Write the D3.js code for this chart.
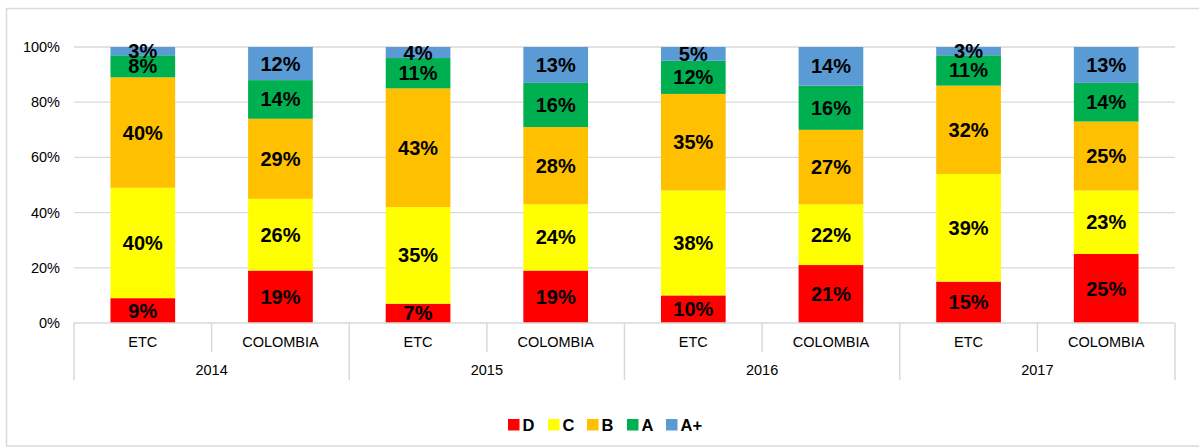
<!DOCTYPE html>
<html><head><meta charset="utf-8">
<script src="https://cdn.jsdelivr.net/npm/d3@7"></script>
<style>body{margin:0;background:#fff;}svg{display:block;font-family:"Liberation Sans",Arial,sans-serif;}</style>
</head><body>
<svg id="c" width="1199" height="447"></svg>
<script>
const years = ["2014","2015","2016","2017"];
const groups = ["ETC","COLOMBIA"];
const seriesNames = ["D","C","B","A","A+"];
const seriesColors = ["#ff0000","#ffff00","#ffc000","#00b050","#5b9bd5"];
const D  = [9,19,7,19,10,21,15,25];
const C  = [40,26,35,24,38,22,39,23];
const B  = [40,29,43,28,35,27,32,25];
const A  = [8,14,11,16,12,16,11,14];
const Ap = [3,12,4,13,5,14,3,13];
const yTicks = [0,20,40,60,80,100];

const cats = [];
years.forEach(y=>groups.forEach(g=>cats.push(y+"|"+g)));
const rows = cats.map((k,i)=>({key:k, D:D[i], C:C[i], B:B[i], A:A[i], "A+":Ap[i]}));

const svg = d3.select("#c");
// frame
svg.append("rect").attr("x",6.5).attr("y",8.5).attr("width",1300).attr("height",437.5)
  .attr("fill","none").attr("stroke","#d9d9d9").attr("stroke-width",1.5);

const L=74,R=1175,T=47,Bm=323;
const x = d3.scaleBand().domain(cats).range([L,R]).paddingInner(0.53).paddingOuter(0.265);
const y = d3.scaleLinear().domain([0,100]).range([Bm,T]);

// gridlines
svg.append("g").selectAll("line").data(yTicks.filter(t=>t>0)).join("line")
  .attr("x1",L).attr("x2",R).attr("y1",d=>y(d)).attr("y2",d=>y(d))
  .attr("stroke","#d9d9d9").attr("stroke-width",1.3);
svg.append("g").selectAll("text").data(yTicks).join("text")
  .attr("x",60).attr("y",d=>y(d)+5).attr("text-anchor","end")
  .attr("font-size",14.5).attr("fill","#000").text(d=>d+"%");

const stack = d3.stack().keys(seriesNames)(rows);
const color = d3.scaleOrdinal().domain(seriesNames).range(seriesColors);
const gs = svg.append("g").selectAll("g").data(stack).join("g").attr("fill",d=>color(d.key));
gs.selectAll("rect").data(d=>d).join("rect")
  .attr("x",d=>x(d.data.key)).attr("width",x.bandwidth())
  .attr("y",d=>y(d[1])).attr("height",d=>y(d[0])-y(d[1]));
const lg = svg.append("g").attr("font-size",20).attr("font-weight","bold").attr("text-anchor","middle");
stack.forEach(s=>{
  s.forEach(d=>{
    lg.append("text").attr("x",x(d.data.key)+x.bandwidth()/2)
      .attr("y",(y(d[0])+y(d[1]))/2+7).text((d[1]-d[0])+"%");
  });
});

// axis
const step = x.step();
const ax = svg.append("g").attr("stroke","#d9d9d9").attr("stroke-width",1.5);
ax.append("line").attr("x1",L).attr("x2",R).attr("y1",Bm).attr("y2",Bm);
cats.forEach((c,i)=>{
  const xs = L + i*step;
  const major = i%2===0;
  ax.append("line").attr("x1",xs).attr("x2",xs).attr("y1",Bm).attr("y2",major?380:352);
});
ax.append("line").attr("x1",R).attr("x2",R).attr("y1",Bm).attr("y2",380);
svg.append("g").selectAll("text").data(cats).join("text")
  .attr("x",d=>x(d)+x.bandwidth()/2).attr("y",346.5).attr("text-anchor","middle")
  .attr("font-size",14.5).text(d=>d.split("|")[1]);
svg.append("g").selectAll("text").data(years).join("text")
  .attr("x",(d,i)=>L+step*(2*i+1)).attr("y",375).attr("text-anchor","middle")
  .attr("font-size",14.5).text(d=>d);

// legend
const legX=[508,548,587,627,666];
const leg = svg.append("g");
seriesNames.forEach((n,i)=>{
  leg.append("rect").attr("x",legX[i]).attr("y",419).attr("width",11.5).attr("height",11.5).attr("fill",seriesColors[i]);
  leg.append("text").attr("x",legX[i]+14.5).attr("y",430.5).attr("font-size",16.5).attr("font-weight","bold").text(n);
});
</script>
</body></html>
